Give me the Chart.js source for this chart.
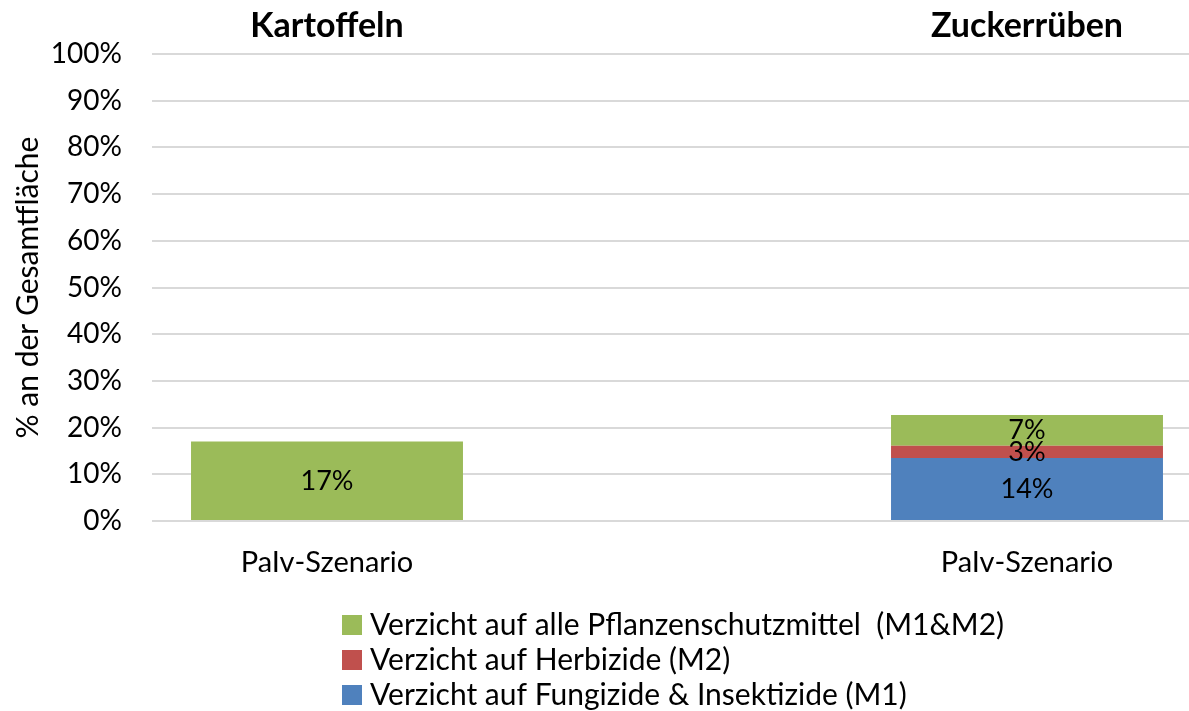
<!DOCTYPE html>
<html lang="de">
<head>
<meta charset="utf-8">
<script src="https://cdn.jsdelivr.net/npm/chart.js@4.4.1/dist/chart.umd.min.js"></script>
<style>
  html, body { margin: 0; padding: 0; background: #fff; overflow: hidden; }
  #wrap { width: 1189px; height: 711px; overflow: hidden; }
</style>
</head>
<body>
<div id="wrap"><canvas id="myChart" width="1215" height="711"></canvas></div>
<script>
// Daten
const categories = ["PaIv-Szenario", "", "PaIv-Szenario"];
const cropTitles = ["Kartoffeln", "", "Zuckerrüben"];
const seriesNames = [
  "Verzicht auf Fungizide & Insektizide (M1)",
  "Verzicht auf Herbizide (M2)",
  "Verzicht auf alle Pflanzenschutzmittel  (M1&M2)",
];
const m1Values = [0, null, 13.5];
const m2Values = [0, null, 2.6];
const m12Values = [17.0, null, 6.6];
const seriesColors = ["#4F81BD", "#C0504D", "#9BBB59"];

const FONT = "Lato";

// Prozentwerte in die Balken schreiben
const valueLabels = {
  id: "valueLabels",
  afterDatasetsDraw(chart) {
    const ctx = chart.ctx;
    ctx.save();
    ctx.font = "27px " + FONT;
    ctx.fillStyle = "#000";
    ctx.textAlign = "center";
    ctx.textBaseline = "middle";
    chart.data.datasets.forEach((ds, i) => {
      chart.getDatasetMeta(i).data.forEach((bar, j) => {
        const v = ds.data[j];
        if (!v) return;
        const p = bar.getProps(["x", "y", "base"], true);
        ctx.fillText(Math.round(v) + "%", p.x, (p.y + p.base) / 2);
      });
    });
    ctx.restore();
  },
};

// Legende untereinander, linksbündig
const stackedLegend = {
  id: "stackedLegend",
  afterDraw(chart) {
    const ctx = chart.ctx;
    const area = chart.chartArea;
    ctx.save();
    ctx.font = "30px " + FONT;
    ctx.textBaseline = "middle";
    ctx.textAlign = "left";
    const items = chart.data.datasets.slice().reverse();
    const w = Math.max(...items.map(d => ctx.measureText(d.label).width)) + 28;
    const left = Math.round((area.left + area.right) / 2 - w / 2) - 4;
    items.forEach((d, k) => {
      const cy = 625 + k * 35;
      ctx.fillStyle = d.backgroundColor;
      ctx.fillRect(left, cy - 10, 20, 20);
      ctx.fillStyle = "#000";
      ctx.fillText(d.label, left + 28, cy);
    });
    ctx.restore();
  },
};

const data = {
  labels: categories,
  datasets: [m1Values, m2Values, m12Values].map((vals, i) => ({
    label: seriesNames[i],
    data: vals,
    backgroundColor: seriesColors[i],
    borderWidth: 0,
    categoryPercentage: 1,
    barPercentage: 0.777,
  })),
};

const config = {
  type: "bar",
  data: data,
  options: {
    responsive: false,
    animation: false,
    layout: { padding: { top: 0, left: 0, right: 13, bottom: 0 } },
    plugins: {
      legend: { display: false },
      tooltip: { enabled: false },
    },
    scales: {
      x: {
        stacked: true,
        grid: { display: false, drawTicks: false },
        border: { display: false },
        ticks: { color: "#000", font: { family: FONT, size: 29 }, padding: 24 },
        afterFit(s) { s.height = 190; },
      },
      x2: {
        type: "category",
        labels: cropTitles,
        position: "top",
        offset: true,
        grid: { display: false, drawTicks: false },
        border: { display: false },
        ticks: { color: "#000", font: { family: FONT, size: 34, weight: "bold" }, padding: 8 },
        afterFit(s) { s.height = 54; },
      },
      y: {
        stacked: true,
        min: 0,
        max: 100,
        ticks: {
          stepSize: 10,
          callback: v => v + "%",
          color: "#000",
          font: { family: FONT, size: 28 },
          padding: 30,
        },
        grid: { color: "#d9d9d9", lineWidth: 2, drawTicks: false },
        border: { display: false },
        title: {
          display: true,
          text: "% an der Gesamtfläche",
          color: "#000",
          font: { family: FONT, size: 30 },
          padding: { top: 10, bottom: 0 },
        },
        afterFit(s) { s.width = 152; },
      },
    },
  },
  plugins: [valueLabels, stackedLegend],
};

const ctx = document.getElementById("myChart").getContext("2d");
new Chart(ctx, config);
</script>
</body>
</html>
